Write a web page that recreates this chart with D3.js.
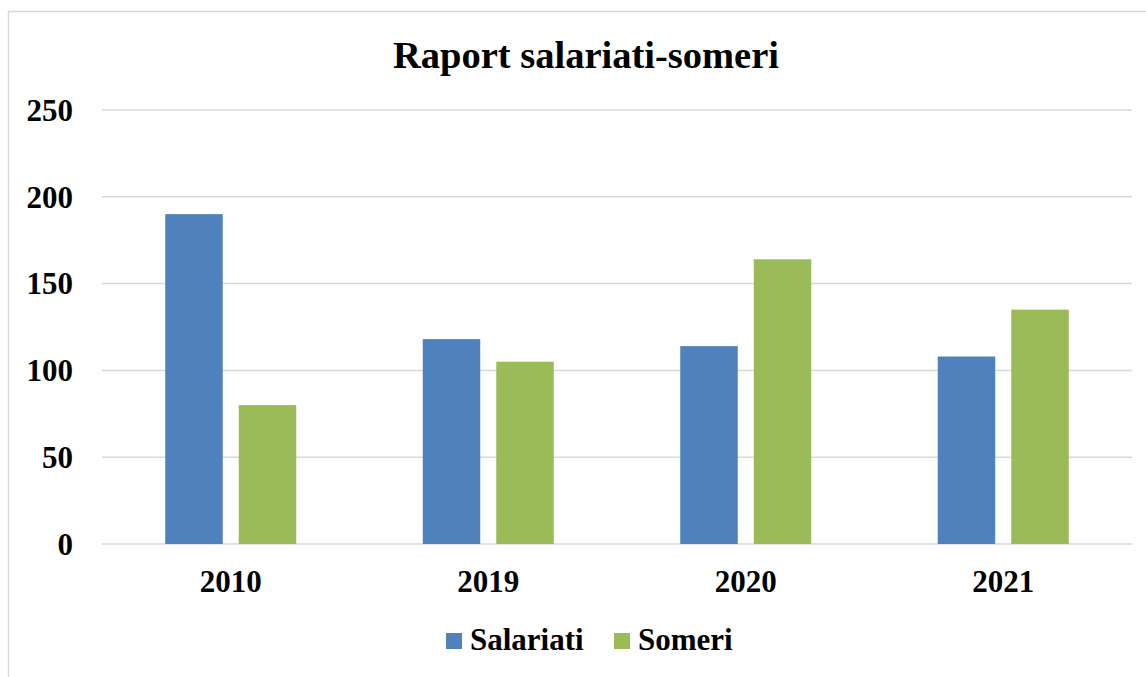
<!DOCTYPE html>
<html>
<head>
<meta charset="utf-8">
<script src="https://cdn.jsdelivr.net/npm/d3@7"></script>
<style>
  html, body { margin: 0; padding: 0; background: #fff; }
  svg { display: block; }
  text { font-family: "Liberation Serif", "Times New Roman", serif; font-weight: bold; fill: #000; }
</style>
</head>
<body>
<svg id="chart" width="1146" height="677"></svg>
<script>
// Data
const years = ["2010", "2019", "2020", "2021"];
const seriesNames = ["Salariati", "Someri"];
const salariati = [190, 118, 114, 108];
const someri = [80, 105, 164, 135];
const yTicks = [0, 50, 100, 150, 200, 250];
const colors = ["#4F81BD", "#9BBB59"];

const values = [salariati, someri];

const svg = d3.select("#chart");

// Chart frame (extends past right/bottom edges)
svg.append("rect")
  .attr("x", 8.5).attr("y", 11.5)
  .attr("width", 1200).attr("height", 700)
  .attr("fill", "#fff")
  .attr("stroke", "#d9d9d9").attr("stroke-width", 1.5);

const plot = { left: 102, right: 1132, top: 110, bottom: 544 };

const y = d3.scaleLinear().domain([0, 250]).range([plot.bottom, plot.top]);
const x0 = d3.scaleBand().domain(years).range([plot.left, plot.right]).padding(0);
const groupInset = 63.25;
const x1 = d3.scaleBand().domain(seriesNames)
  .range([groupInset, x0.bandwidth() - groupInset])
  .paddingInner(0.218).paddingOuter(0);

// Gridlines
svg.append("g").selectAll("line")
  .data(yTicks)
  .join("line")
  .attr("x1", plot.left).attr("x2", plot.right)
  .attr("y1", d => y(d)).attr("y2", d => y(d))
  .attr("stroke", "#d9d9d9").attr("stroke-width", 1.5);

// Y axis labels
svg.append("g").selectAll("text")
  .data(yTicks)
  .join("text")
  .attr("x", 73)
  .attr("y", d => y(d))
  .attr("dy", "0.35em")
  .attr("text-anchor", "end")
  .style("font-size", "31px")
  .text(d => d);

// Bars
const groups = svg.append("g").selectAll("g")
  .data(years)
  .join("g")
  .attr("transform", d => `translate(${x0(d)},0)`);

groups.selectAll("rect")
  .data((d, i) => seriesNames.map((s, j) => ({ s, j, v: values[j][i] })))
  .join("rect")
  .attr("x", d => x1(d.s))
  .attr("width", x1.bandwidth())
  .attr("y", d => y(d.v))
  .attr("height", d => y(0) - y(d.v))
  .attr("fill", d => colors[d.j]);

// X axis labels
svg.append("g").selectAll("text")
  .data(years)
  .join("text")
  .attr("x", d => x0(d) + x0.bandwidth() / 2)
  .attr("y", 592)
  .attr("text-anchor", "middle")
  .style("font-size", "31px")
  .text(d => d);

// Title
svg.append("text")
  .attr("x", 586).attr("y", 68)
  .attr("text-anchor", "middle")
  .style("font-size", "38.5px")
  .text("Raport salariati-someri");

// Legend
const legendItems = [
  { name: seriesNames[0], color: colors[0], x: 446 },
  { name: seriesNames[1], color: colors[1], x: 614 }
];
const lg = svg.append("g").selectAll("g")
  .data(legendItems)
  .join("g")
  .attr("transform", d => `translate(${d.x},0)`);
lg.append("rect")
  .attr("x", 0).attr("y", 633)
  .attr("width", 16).attr("height", 16)
  .attr("fill", d => d.color);
lg.append("text")
  .attr("x", 24).attr("y", 650)
  .style("font-size", "31px")
  .text(d => d.name);
</script>
</body>
</html>
